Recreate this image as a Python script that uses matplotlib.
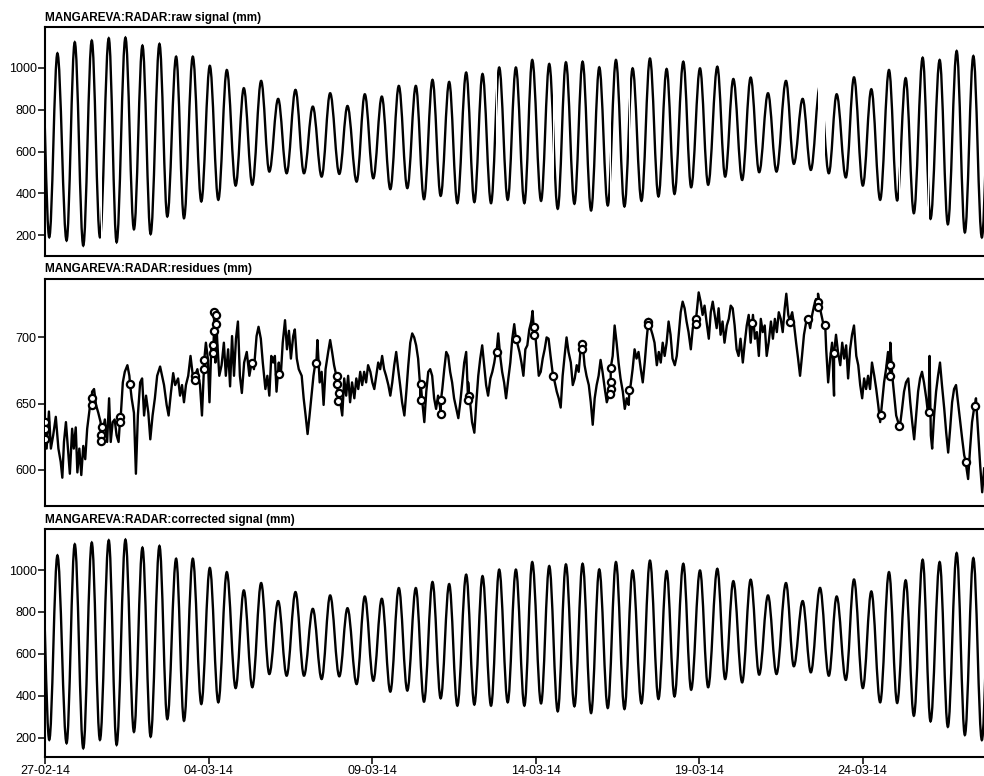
import numpy as np
import matplotlib
matplotlib.use("Agg")
import matplotlib.pyplot as plt
import matplotlib.dates as mdates
from matplotlib.path import Path
from matplotlib.patches import PathPatch, Rectangle
from matplotlib.ticker import FixedLocator, NullLocator
from datetime import datetime

plt.rcParams['font.family'] = ['Liberation Sans', 'DejaVu Sans']

# times are days after 27-02-14 00:00
T0 = mdates.date2num(datetime(2014, 2, 27))
DAY_RANGE = (0.0, 29.0)

# tide extremes (high / low water), mm
high_day = [-0.12, 0.38, 0.91, 1.43, 1.95, 2.46, 2.98, 3.50, 4.01, 4.52, 5.04, 5.56, 6.08, 6.61,
            7.13, 7.66, 8.19, 8.72, 9.25, 9.78, 10.30, 10.82, 11.34, 11.85, 12.36, 12.88, 13.38,
            13.89, 14.40, 14.90, 15.42, 15.93, 16.44, 16.95, 17.46, 17.97, 18.50, 19.01, 19.52,
            20.03, 20.56, 21.05, 21.58, 22.11, 22.66, 23.17, 23.70, 24.21, 24.74, 25.27, 25.81,
            26.32, 26.84, 27.36, 27.88, 28.39, 28.91]
high_mm = [1120, 1070, 1123, 1131, 1142, 1145, 1107, 1115, 1054, 1054, 1010, 990, 903, 938,
           852, 895, 815, 879, 818, 874, 863, 914, 914, 943, 933, 978, 971,
           1002, 1002, 1038, 1019, 1027, 1030, 1003, 1038, 998, 1045, 995, 1030,
           998, 1006, 947, 954, 879, 938, 852, 915, 874, 955, 898, 990,
           951, 1049, 1038, 1081, 1057, 1090]
low_day = [0.13, 0.66, 1.17, 1.68, 2.19, 2.72, 3.23, 3.74, 4.25, 4.78, 5.30, 5.83, 6.34, 6.86,
           7.39, 7.92, 8.46, 9.00, 9.53, 10.04, 10.56, 11.08, 11.59, 12.10, 12.61, 13.13, 13.64,
           14.15, 14.66, 15.17, 15.68, 16.19, 16.70, 17.21, 17.72, 18.24, 18.76, 19.25, 19.76,
           20.28, 20.80, 21.32, 21.84, 22.37, 22.90, 23.42, 23.97, 24.49, 25.01, 25.54, 26.06,
           26.57, 27.08, 27.61, 28.13, 28.65]
low_mm = [190, 174, 150, 190, 166, 228, 205, 289, 281, 361, 369, 437, 441, 504,
          496, 496, 480, 493, 456, 472, 420, 425, 372, 388, 353, 358, 353,
          369, 353, 364, 326, 350, 318, 342, 337, 364, 385, 397, 429,
          441, 480, 464, 501, 504, 541, 512, 496, 476, 437, 369, 366,
          305, 278, 252, 213, 189]

# stretches missing from the raw record (days)
raw_gaps = [(1.715, 1.728), (2.284, 2.296), (2.594, 2.606), (5.224, 5.236), (11.484, 11.497),
            (12.955, 12.972), (13.805, 13.817), (15.545, 15.557), (17.292, 17.310),
            (17.864, 17.876), (23.64, 23.85), (26.124, 26.136), (27.014, 27.026)]

# residues (mm)
resid_w1 = [(0.00, 633), (0.05, 616), (0.12, 644), (0.18, 616), (0.25, 626), (0.33, 640), (0.41, 616),
            (0.48, 606), (0.53, 594), (0.58, 621), (0.64, 636), (0.70, 616), (0.76, 597), (0.83, 631),
            (0.88, 616), (0.94, 632), (0.99, 598), (1.05, 616), (1.11, 596), (1.17, 618), (1.23, 608),
            (1.29, 631), (1.38, 649), (1.44, 659), (1.50, 661), (1.56, 649), (1.63, 643), (1.70, 636),
            (1.76, 628), (1.83, 638), (1.90, 621), (1.96, 654), (2.01, 621), (2.07, 636), (2.13, 638),
            (2.19, 626), (2.25, 621), (2.31, 638), (2.38, 666), (2.44, 674), (2.52, 679), (2.58, 671),
            (2.65, 654), (2.72, 643), (2.78, 597), (2.84, 641), (2.91, 666), (2.97, 669), (3.03, 641),
            (3.09, 656), (3.16, 643), (3.22, 623), (3.29, 641), (3.36, 654), (3.43, 671), (3.52, 678),
            (3.58, 671), (3.64, 664), (3.72, 649), (3.78, 641), (3.85, 658), (3.92, 673), (3.98, 664),
            (4.07, 669), (4.13, 656), (4.19, 664), (4.25, 651), (4.31, 664), (4.38, 671), (4.45, 686),
            (4.52, 671), (4.59, 666), (4.66, 676), (4.74, 664), (4.80, 641), (4.86, 676), (4.92, 696),
            (4.98, 684), (5.03, 651), (5.09, 696), (5.15, 689), (5.21, 681), (5.27, 696), (5.33, 671),
            (5.40, 679), (5.47, 696), (5.53, 671), (5.60, 691), (5.66, 663), (5.72, 701), (5.78, 671),
            (5.84, 699), (5.90, 712), (5.96, 671), (6.02, 658), (6.09, 681), (6.17, 689), (6.25, 671),
            (6.33, 681), (6.39, 676), (6.47, 701), (6.53, 708), (6.60, 699), (6.66, 681), (6.74, 661),
            (6.80, 671), (6.86, 656), (6.92, 686), (6.98, 681)]
resid_w2 = [(7.03, 686), (7.08, 659), (7.15, 681), (7.21, 671), (7.27, 696), (7.34, 713), (7.40, 691),
            (7.46, 705), (7.52, 684), (7.59, 701), (7.64, 706), (7.70, 684), (7.76, 676), (7.85, 671),
            (7.91, 654), (7.97, 641), (8.03, 627), (8.09, 641), (8.15, 656), (8.21, 671), (8.27, 681),
            (8.33, 698), (8.40, 666), (8.46, 674), (8.52, 649), (8.58, 676), (8.66, 689), (8.72, 698),
            (8.78, 689), (8.84, 679), (8.91, 671), (8.97, 656), (9.03, 651), (9.09, 641), (9.15, 669),
            (9.21, 656), (9.27, 671), (9.33, 651), (9.39, 666), (9.46, 654), (9.52, 669), (9.58, 661),
            (9.64, 674), (9.70, 664), (9.76, 674), (9.82, 666), (9.88, 679), (9.95, 674), (10.01, 666),
            (10.07, 661), (10.13, 671), (10.19, 681), (10.25, 676), (10.31, 686), (10.37, 676),
            (10.43, 671), (10.50, 664), (10.56, 656), (10.62, 666), (10.68, 679), (10.74, 689),
            (10.80, 676), (10.86, 664), (10.92, 651), (10.99, 641), (11.05, 659), (11.11, 679),
            (11.17, 696), (11.23, 703), (11.29, 700), (11.35, 694), (11.41, 684), (11.47, 664),
            (11.54, 651), (11.60, 636), (11.66, 659), (11.72, 674), (11.78, 676), (11.84, 671),
            (11.90, 654), (11.96, 646), (12.02, 656), (12.09, 646), (12.15, 661), (12.21, 676),
            (12.27, 689), (12.33, 686), (12.39, 674), (12.45, 666), (12.51, 654), (12.58, 646),
            (12.64, 639), (12.70, 651), (12.76, 666), (12.82, 681), (12.88, 689), (12.94, 666),
            (13.00, 651), (13.06, 636), (13.13, 628), (13.19, 651), (13.25, 671), (13.31, 684),
            (13.37, 694), (13.43, 679), (13.49, 664), (13.55, 656), (13.62, 669), (13.68, 674),
            (13.74, 681), (13.80, 691), (13.86, 703), (13.92, 686), (13.98, 674), (14.04, 666),
            (14.10, 654), (14.17, 669), (14.23, 681), (14.29, 699), (14.35, 710)]
resid_w3 = [(14.44, 696), (14.51, 689), (14.57, 681), (14.63, 671), (14.69, 691), (14.75, 694),
            (14.81, 706), (14.87, 712), (14.91, 720), (14.97, 709), (15.04, 689), (15.10, 671),
            (15.16, 674), (15.22, 684), (15.28, 691), (15.34, 700), (15.40, 699), (15.46, 686),
            (15.52, 674), (15.59, 666), (15.65, 659), (15.71, 654), (15.77, 647), (15.83, 671),
            (15.89, 686), (15.95, 700), (16.01, 689), (16.08, 681), (16.14, 664), (16.20, 669),
            (16.26, 679), (16.32, 674), (16.38, 691), (16.44, 696), (16.50, 679), (16.56, 671),
            (16.63, 664), (16.69, 651), (16.75, 634), (16.81, 654), (16.87, 664), (16.93, 671),
            (16.99, 683), (17.05, 674), (17.12, 661), (17.18, 651), (17.24, 656), (17.30, 671),
            (17.36, 686), (17.42, 709), (17.48, 696), (17.54, 681), (17.60, 669), (17.67, 659),
            (17.73, 646), (17.79, 654), (17.85, 649), (17.91, 664), (17.97, 676), (18.03, 691),
            (18.09, 684), (18.15, 689), (18.22, 676), (18.28, 666), (18.34, 681), (18.40, 699),
            (18.46, 714), (18.52, 707), (18.58, 702), (18.64, 696), (18.71, 679), (18.77, 689),
            (18.83, 681), (18.89, 696), (18.95, 686), (19.01, 696), (19.07, 712), (19.13, 702),
            (19.19, 684), (19.26, 679), (19.32, 686), (19.38, 702), (19.44, 719), (19.50, 727),
            (19.56, 722), (19.62, 712), (19.68, 704), (19.75, 691), (19.81, 707), (19.87, 714),
            (19.93, 719), (19.99, 734), (20.05, 727), (20.11, 717), (20.17, 724), (20.23, 712),
            (20.30, 699), (20.36, 719), (20.42, 727), (20.48, 717), (20.54, 707), (20.60, 722),
            (20.66, 702), (20.72, 712), (20.78, 696), (20.85, 709), (20.91, 714), (20.97, 724),
            (21.03, 722), (21.09, 709), (21.15, 691), (21.21, 686), (21.27, 699), (21.34, 681),
            (21.40, 696), (21.46, 709), (21.52, 717)]
resid_w4 = [(21.58, 696), (21.65, 717), (21.71, 699), (21.77, 704), (21.83, 686), (21.89, 714),
            (21.95, 704), (22.01, 709), (22.07, 686), (22.13, 696), (22.20, 712), (22.26, 699),
            (22.32, 714), (22.38, 704), (22.44, 719), (22.50, 714), (22.56, 704), (22.62, 722),
            (22.67, 733), (22.73, 717), (22.79, 714), (22.85, 719), (22.91, 709), (22.97, 696),
            (23.03, 684), (23.09, 671), (23.15, 686), (23.21, 702), (23.28, 712), (23.34, 714),
            (23.40, 707), (23.46, 717), (23.52, 724), (23.58, 729), (23.64, 733), (23.70, 722),
            (23.77, 714), (23.83, 707), (23.89, 691), (23.95, 666), (24.01, 684), (24.07, 696),
            (24.13, 656), (24.19, 702), (24.25, 689), (24.32, 679), (24.38, 696), (24.44, 684),
            (24.50, 694), (24.56, 669), (24.62, 691), (24.68, 702), (24.74, 709), (24.81, 686),
            (24.87, 679), (24.93, 664), (24.99, 654), (25.05, 669), (25.11, 661), (25.17, 671),
            (25.23, 661), (25.29, 681), (25.36, 671), (25.42, 661), (25.48, 649), (25.54, 636),
            (25.60, 651), (25.66, 666), (25.72, 676), (25.78, 689), (25.85, 696), (25.91, 671),
            (25.97, 656), (26.03, 641), (26.09, 636), (26.15, 634), (26.21, 646), (26.27, 659),
            (26.33, 666), (26.40, 669), (26.46, 651), (26.52, 636), (26.58, 623), (26.64, 641),
            (26.70, 659), (26.76, 669), (26.82, 674), (26.88, 666), (26.95, 654), (27.01, 641),
            (27.05, 686), (27.09, 626), (27.13, 616), (27.19, 641), (27.25, 659), (27.31, 671),
            (27.37, 681), (27.43, 664), (27.50, 646), (27.56, 628), (27.62, 613), (27.68, 631),
            (27.74, 651), (27.80, 661), (27.86, 664), (27.92, 651), (27.99, 636), (28.05, 623),
            (28.11, 611), (28.17, 603), (28.23, 593), (28.29, 616), (28.35, 636), (28.41, 646),
            (28.47, 654), (28.54, 626), (28.60, 603), (28.66, 583), (28.72, 601)]

# points flagged in the residues (drawn as circles)
flagged = [(0.00, 636), (0.00, 631), (0.00, 623), (1.43, 654), (1.43, 649), (1.73, 632), (1.71, 626),
           (1.71, 622), (2.29, 640), (2.29, 636), (2.60, 665), (4.59, 671), (4.59, 668), (4.87, 683),
           (4.87, 676), (5.17, 719), (5.23, 717), (5.23, 710), (5.17, 705), (5.15, 694), (5.15, 688),
           (6.32, 681), (7.17, 672), (8.30, 681), (8.92, 671), (8.92, 665), (8.99, 658), (8.97, 652),
           (11.49, 665), (11.49, 653), (12.11, 653), (12.10, 642), (12.97, 656), (12.94, 653),
           (13.81, 689), (14.40, 699), (14.96, 708), (14.96, 702), (15.55, 671), (16.41, 695),
           (16.41, 691), (17.30, 677), (17.30, 666), (17.30, 661), (17.28, 657), (17.87, 660),
           (18.44, 712), (18.44, 709), (19.91, 714), (19.91, 710), (21.63, 711), (22.78, 712),
           (23.34, 714), (23.64, 727), (23.64, 723), (23.86, 709), (24.13, 688), (25.56, 641),
           (25.85, 679), (25.85, 671), (26.13, 633), (27.02, 644), (28.16, 606), (28.43, 648)]

date_ticks = ['27-02-14', '04-03-14', '09-03-14', '14-03-14', '19-03-14', '24-03-14']

titles = ['MANGAREVA:RADAR:raw signal (mm)',
          'MANGAREVA:RADAR:residues (mm)',
          'MANGAREVA:RADAR:corrected signal (mm)']


def tide_path(days, levels):
    # smooth curve through the extremes: two cubic pieces per half cycle,
    # horizontal at high/low water (cosine-like shape)
    x = T0 + np.asarray(days, float)
    y = np.asarray(levels, float)
    verts = [(x[0], y[0])]
    codes = [Path.MOVETO]
    for i in range(1, len(x)):
        x0, y0, x1, y1 = x[i - 1], y[i - 1], x[i], y[i]
        xm, ym = (x0 + x1) / 2, (y0 + y1) / 2
        w = (x1 - x0) / 2
        d = ym - y0
        verts += [(x0 + 0.362 * w, y0), (x0 + 0.674 * w, y0 + 0.4877 * d), (xm, ym),
                  (x1 - 0.674 * w, y1 - 0.4877 * d), (x1 - 0.362 * w, y1), (x1, y1)]
        codes += [Path.CURVE4] * 6
    return Path(verts, codes)


ext = sorted(zip(high_day + low_day, high_mm + low_mm))
tide = tide_path([e[0] for e in ext], [e[1] for e in ext])

res = sorted(resid_w1 + resid_w2 + resid_w3 + resid_w4 + flagged)
res_day = T0 + np.array([r[0] for r in res])
res_mm = np.array([r[1] for r in res])
flag_day = T0 + np.array([f[0] for f in flagged])
flag_mm = np.array([f[1] for f in flagged])

W, H = 984, 776
fig = plt.figure(figsize=(W / 100, H / 100), dpi=100)

def px_axes(top, bottom):
    left, right = 45, 45 + 32.7 * (DAY_RANGE[1] - DAY_RANGE[0])
    return fig.add_axes([left / W, 1 - bottom / H, (right - left) / W, (bottom - top) / H])

ax_raw = px_axes(27, 256)
ax_res = px_axes(278.5, 505.5)
ax_cor = px_axes(529, 757)

LW = 1.7

# raw signal: same curve, broken where the record has holes
edges = [DAY_RANGE[0]] + [v for g in raw_gaps for v in g] + [DAY_RANGE[1]]
for a, b in zip(edges[0::2], edges[1::2]):
    p = PathPatch(tide, fill=False, ec='black', lw=LW, capstyle='butt')
    ax_raw.add_patch(p)
    # clip after add_patch, otherwise the axes clip replaces it
    p.set_clip_path(Rectangle((T0 + a, 0), b - a, 1, transform=ax_raw.get_xaxis_transform()))
ax_raw.set_ylim(100, 1196)

ax_res.plot(res_day, res_mm, color='black', lw=1.7)
ax_res.plot(flag_day, flag_mm, 'o', ms=5.2, mfc='white', mec='black', mew=1.6, zorder=3)
ax_res.set_ylim(573, 744.5)

ax_cor.add_patch(PathPatch(tide, fill=False, ec='black', lw=LW))
ax_cor.set_ylim(108, 1196)

tick_pos = [mdates.date2num(datetime.strptime(s, '%d-%m-%y')) for s in date_ticks]

for ax, title in zip([ax_raw, ax_res, ax_cor], titles):
    ax.set_xlim(T0 + DAY_RANGE[0], T0 + DAY_RANGE[1])
    ax.set_title(title, loc='left', fontsize=8.5, fontweight='bold', pad=4.5)
    for s in ax.spines.values():
        s.set_linewidth(1.5)
    ax.tick_params(axis='y', direction='out', length=5, width=1.1, pad=1, labelsize=9)
    ax.xaxis.set_major_locator(NullLocator())

ax_raw.set_yticks([200, 400, 600, 800, 1000])
ax_res.set_yticks([600, 650, 700])
ax_cor.set_yticks([200, 400, 600, 800, 1000])

ax_cor.xaxis.set_major_locator(FixedLocator(tick_pos))
ax_cor.xaxis.set_major_formatter(mdates.DateFormatter('%d-%m-%y'))
ax_cor.tick_params(axis='x', direction='out', length=5, width=1.1, pad=1, labelsize=9)

fig.savefig('out.png', dpi=100)
